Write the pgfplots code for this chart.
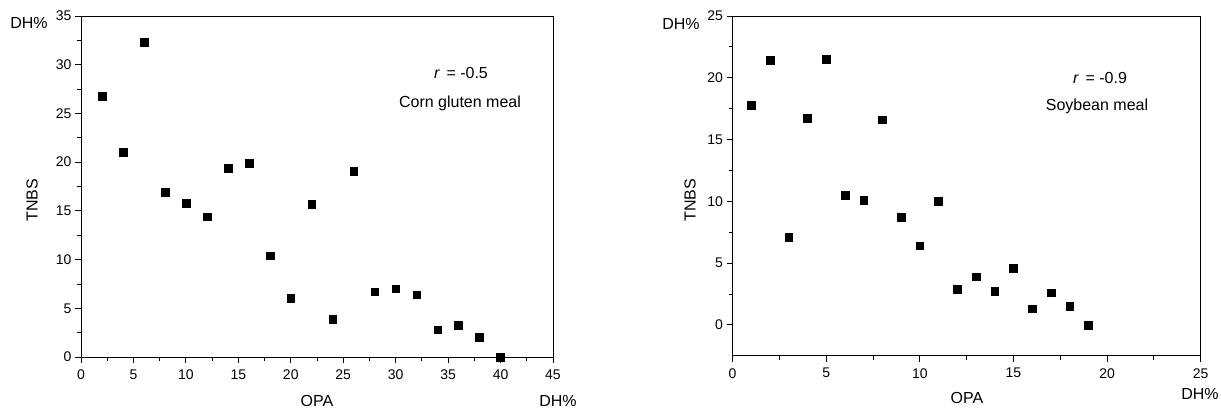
\documentclass[border=0pt]{standalone}
\usepackage{fontspec}
\setmainfont{Liberation Sans}
\usepackage{pgfplots}
\pgfplotsset{compat=1.18}

\pgfplotstableread{
x y
2 26.8
4 21.0
6 32.3
8 16.9
10 15.8
12 14.4
14 19.4
16 19.9
18 10.4
20 6.0
22 15.7
24 3.9
26 19.1
28 6.7
30 7.0
32 6.4
34 2.8
36 3.3
38 2.0
40 0.0
}\corn

\pgfplotstableread{
x y
1 17.8
2 21.4
3 7.1
4 16.7
5 21.5
6 10.5
7 10.1
8 16.6
9 8.7
10 6.4
11 10.0
12 2.9
13 3.9
14 2.75
15 4.6
16 1.3
17 2.6
18 1.5
19 0.0
}\soy

\pgfplotsset{myax/.style={
  scale only axis, anchor=south west, clip=false,
  axis line style={line width=0.8pt},
  every tick/.style={black, line width=0.8pt},
  tick align=outside, xtick pos=left, ytick pos=left,
  major tick length=6pt, minor tick length=4pt,
  minor tick num=1,
  /pgf/number format/assume math mode=true,
  ticklabel style={font=\fontsize{14}{16}\selectfont},
  xticklabel style={yshift=-3pt},
  scaled ticks=false,
}}

\begin{document}
\begin{tikzpicture}[x=1pt,y=1pt]
\path[use as bounding box] (0,0) rectangle (1221,409);
\begin{axis}[myax, at={(81pt,52pt)}, width=472pt, height=341pt,
  xmin=0, xmax=45, xtick={0,5,...,45},
  ymin=0, ymax=35, ytick={0,5,...,35}]
\addplot[only marks, mark=square*, mark size=3.9pt, mark options={black}] table[x=x,y=y] {\corn};
\end{axis}
\begin{axis}[myax, at={(732.5pt,53.3pt)}, width=468.2pt, height=339.7pt,
  xmin=0, xmax=25, xtick={0,5,...,25},
  ymin=-2.5, ymax=25, ytick={0,5,...,25}]
\addplot[only marks, mark=square*, mark size=3.9pt, mark options={black}] table[x=x,y=y] {\soy};
\end{axis}
\begin{scope}[every node/.style={font=\fontsize{16}{19}\selectfont, inner sep=0pt}]
\node at (29,386) {DH\%};
\node[rotate=90] at (32,209) {TNBS};
\node at (317,8) {OPA};
\node at (558,8.5) {DH\%};
\node at (461,336) {{\itshape r}\, = -0.5};
\node at (460,305.5) {Corn gluten meal};
\node at (681,385) {DH\%};
\node[rotate=90] at (690,209) {TNBS};
\node at (967,11) {OPA};
\node at (1200,15) {DH\%};
\node at (1100,331.5) {{\itshape r}\, = -0.9};
\node at (1097,303) {Soybean meal};
\end{scope}
\end{tikzpicture}
\end{document}
